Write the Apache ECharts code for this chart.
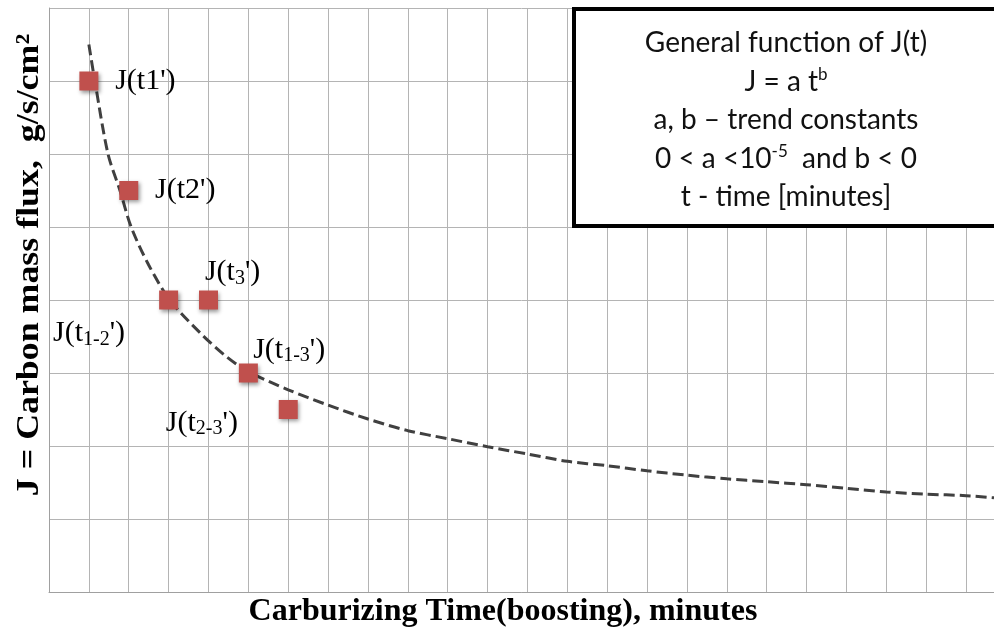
<!DOCTYPE html>
<html>
<head>
<meta charset="utf-8">
<script src="https://cdn.jsdelivr.net/npm/echarts@6/dist/echarts.min.js"></script>
<style>
  html, body { margin: 0; padding: 0; background: #fff; }
  #chart { width: 994px; height: 632px; }
</style>
</head>
<body>
<div id="chart"></div>
<script>
// measured points J(t') (grid units)
const pointX = [1, 2, 3, 4, 5, 6];
const pointY = [7, 5.5, 4, 4, 3, 2.5];

// dashed trend curve
const curveX = [1.0, 1.15, 1.48, 1.78, 2.06, 2.5, 3.03, 3.79, 4.46, 5, 6, 7, 8, 9, 10, 11, 12, 13, 14, 15, 16, 17, 18, 19, 20, 21, 22, 23, 23.7];
const curveY = [7.5, 7.0, 6.0, 5.5, 5.0, 4.48, 4.0, 3.55, 3.22, 3.02, 2.77, 2.56, 2.37, 2.21, 2.10, 1.99, 1.89, 1.79, 1.73, 1.66, 1.60, 1.55, 1.51, 1.47, 1.42, 1.37, 1.34, 1.32, 1.29];

// point labels
const labelX = [1.66, 2.66, 3.91, 0.10, 5.12, 2.93];
const labelY = [7.0, 5.5, 4.38, 3.55, 3.32, 2.32];
const labelText = ["J(t1')", "J(t2')", "J(t{s|3}')", "J(t{s|1-2}')", "J(t{s|1-3}')", "J(t{s|2-3}')"];

const xMax = 23.7;
const yMax = 8;

var chart = echarts.init(document.getElementById('chart'));

var gridColor = '#b4b4b4';
var serif = "'Liberation Serif', 'Times New Roman', serif";

var option = {
  animation: false,
  grid: { left: 49, right: 0, top: 8, bottom: 40 },
  xAxis: {
    type: 'value', min: 0, max: xMax, interval: 1,
    axisLine: { show: true, lineStyle: { color: '#a0a0a0', width: 1 } },
    axisTick: { show: false },
    axisLabel: { show: false },
    splitLine: { show: true, lineStyle: { color: gridColor, width: 1 } }
  },
  yAxis: {
    type: 'value', min: 0, max: yMax, interval: 1,
    axisLine: { show: true, lineStyle: { color: '#a0a0a0', width: 1 } },
    axisTick: { show: false },
    axisLabel: { show: false },
    splitLine: { show: true, lineStyle: { color: gridColor, width: 1 } }
  },
  series: [
    {
      name: 'trend',
      type: 'line',
      data: curveX.map((x, i) => [x, curveY[i]]),
      smooth: 0.3,
      showSymbol: false,
      lineStyle: { color: '#404040', width: 3, type: [11, 5] },
      z: 3
    },
    {
      name: 'J',
      type: 'scatter',
      symbol: 'rect',
      symbolSize: 19,
      data: pointX.map((x, i) => [x, pointY[i]]),
      itemStyle: {
        color: '#c0504d', opacity: 1,
        shadowBlur: 4, shadowColor: 'rgba(0,0,0,0.4)', shadowOffsetX: 1.5, shadowOffsetY: 2
      },
      z: 4
    },
    {
      name: 'labels',
      type: 'scatter',
      symbolSize: 0,
      silent: true,
      itemStyle: { opacity: 1 },
      data: labelX.map((x, i) => ({ value: [x, labelY[i]], label: { formatter: labelText[i] } })),
      label: {
        show: true,
        position: 'right',
        distance: 0,
        fontFamily: serif,
        fontSize: 30,
        color: '#000',
        rich: {
          s: { fontFamily: serif, fontSize: 20, color: '#000', padding: [13, 0, 0, 0] }
        }
      },
      z: 5
    }
  ],
  graphic: [
    {
      type: 'rect',
      shape: { x: 574, y: 9, width: 440, height: 217 },
      style: { fill: '#fff', stroke: '#000', lineWidth: 4 },
      z: 100
    },
    {
      type: 'text',
      x: 786, y: 24,
      z: 101,
      style: {
        text: 'General function of J(t)\nJ = a t{p|b}\na, b \u2013 trend constants\n0 < a <10{p|-5}  and b < 0\nt - time [minutes]',
        fontFamily: 'Lato', fontSize: 28, fill: '#111',
        align: 'center', verticalAlign: 'top', lineHeight: 38.5,
        rich: {
          p: { fontFamily: 'Lato', fontSize: 17, fill: '#111', padding: [0, 0, 14, 0] }
        }
      }
    },
    {
      type: 'text',
      x: 503, y: 612,
      style: {
        text: 'Carburizing Time(boosting), minutes',
        fontFamily: serif, fontWeight: 'bold', fontSize: 32, fill: '#000',
        align: 'center', verticalAlign: 'middle'
      }
    },
    {
      type: 'text',
      x: 30, y: 265, rotation: Math.PI / 2, scaleX: 1.12,
      style: {
        text: 'J = Carbon mass flux,  g/s/cm\u00b2',
        fontFamily: serif, fontWeight: 'bold', fontSize: 32, fill: '#000',
        align: 'center', verticalAlign: 'middle'
      }
    }
  ]
};

chart.setOption(option);
window.addEventListener('resize', function () { chart.resize(); });
</script>
</body>
</html>
